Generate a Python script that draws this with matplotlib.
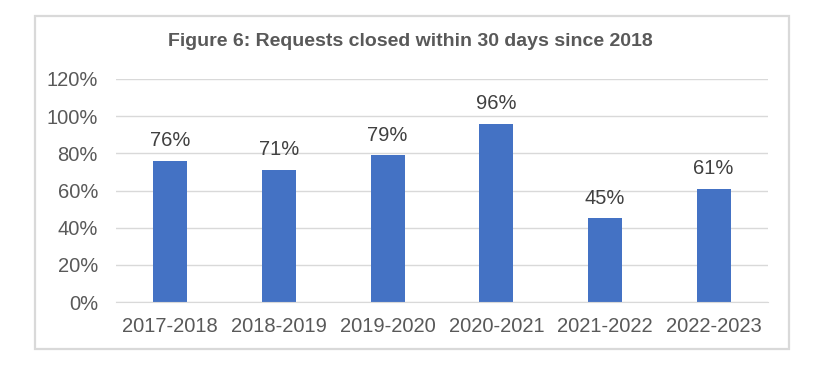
import matplotlib
matplotlib.use("Agg")
import matplotlib.pyplot as plt
from matplotlib.patches import Rectangle
from matplotlib.ticker import FuncFormatter

categories = ["2017-2018", "2018-2019", "2019-2020", "2020-2021", "2021-2022", "2022-2023"]
values = [76, 71, 79, 96, 45, 61]
yticks = [0, 20, 40, 60, 80, 100, 120]
title = "Figure 6: Requests closed within 30 days since 2018"

plt.rcParams['font.family'] = ['Liberation Sans', 'DejaVu Sans']

W, H = 835, 365
fig = plt.figure(figsize=(W / 100, H / 100), dpi=100)
fig.patch.set_facecolor("white")

# outer chart border
fig.add_artist(Rectangle((35 / W, 1 - 349 / H), (789 - 35) / W, (349 - 16) / H,
                         transform=fig.transFigure, fill=False,
                         edgecolor="#d9d9d9", linewidth=1.6))

left, right, top, bottom = 116, 768, 79, 302
ax = fig.add_axes([left / W, 1 - bottom / H, (right - left) / W, (bottom - top) / H])

x = range(len(categories))
bars = ax.bar(x, values, width=0.315, color="#4472c4", zorder=3)
for xi, v in zip(x, values):
    ax.annotate(f"{v}%", (xi, v), xytext=(0, 14.5), textcoords="offset points",
                ha="center", va="center", fontsize=14.5, color="#404040")

ax.set_xlim(-0.5, len(categories) - 0.5)
ax.set_ylim(0, 120)
ax.set_yticks(yticks)
ax.yaxis.set_major_formatter(FuncFormatter(lambda v, p: f"{v:.0f}%"))
ax.set_xticks(list(x))
ax.set_xticklabels(categories)
ax.tick_params(axis="both", length=0, labelsize=14.5, labelcolor="#595959")
ax.tick_params(axis="y", pad=13)
ax.tick_params(axis="x", pad=11)
ax.grid(axis="y", color="#d9d9d9", linewidth=1, zorder=0)
for s in ["top", "right", "left"]:
    ax.spines[s].set_visible(False)
ax.spines["bottom"].set_color("#d9d9d9")
ax.spines["bottom"].set_zorder(4)

fig.text(410.5 / W, 1 - 42 / H, title, ha="center", va="center",
         fontsize=14, fontweight="bold", color="#595959")

fig.savefig("out.png", dpi=100)
